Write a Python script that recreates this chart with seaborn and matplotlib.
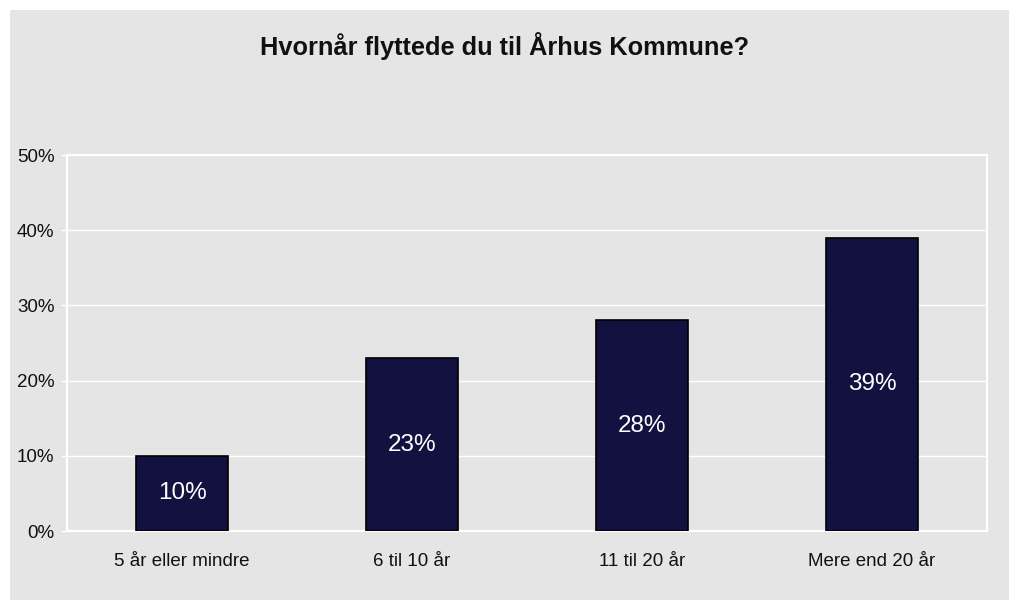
import matplotlib.pyplot as plt
import matplotlib.ticker as mticker
import seaborn as sns
import pandas as pd

categories = ["5 år eller mindre", "6 til 10 år", "11 til 20 år", "Mere end 20 år"]
values = [10, 23, 28, 39]
yticks = [0, 10, 20, 30, 40, 50]

df = pd.DataFrame({"Kategori": categories, "Andel": values})

sns.set_theme(style="white")
plt.rcParams['font.family'] = ['Liberation Sans', 'DejaVu Sans']

bg = "#E5E5E5"
bar_color = "#13113F"

fig = plt.figure(figsize=(10.09, 6), dpi=100, facecolor="white")

# grey chart area with a small white margin left and top
bg_ax = fig.add_axes([10 / 1009, 0, 1 - 10 / 1009, 590 / 600], zorder=-1)
bg_ax.set_facecolor(bg)
bg_ax.set_xticks([])
bg_ax.set_yticks([])
for s in bg_ax.spines.values():
    s.set_visible(False)

ax = fig.add_axes([67 / 1009, 69 / 600, 920 / 1009, 376 / 600], zorder=1)
ax.set_facecolor(bg)

sns.barplot(data=df, x="Kategori", y="Andel", ax=ax, color=bar_color,
            width=0.4, edgecolor="black", linewidth=1.2, saturation=1, zorder=3)

for i, v in enumerate(values):
    ax.text(i, v / 2, f"{v}%", ha="center", va="center", color="white",
            fontsize=17.5, zorder=4)

ax.set_ylim(0, 50)
ax.set_xlim(-0.5, len(categories) - 0.5)
ax.set_yticks(yticks)
ax.yaxis.set_major_formatter(mticker.FuncFormatter(lambda y, _: f"{int(y)}%"))
ax.yaxis.grid(True, color="white", linewidth=1)
ax.set_axisbelow(True)

ax.set_xticks(range(len(categories)))
ax.set_xticklabels(categories)
ax.set_xticks([i - 0.5 for i in range(len(categories) + 1)], minor=True)
ax.tick_params(axis="x", which="major", length=0, pad=16, labelsize=13.5, colors="#111111")
ax.tick_params(axis="x", which="minor", length=4.5, width=1, color="white", direction="out")
ax.tick_params(axis="y", length=4, width=1, color="white", labelsize=13.5,
               labelcolor="#111111", pad=5, direction="out", left=True)

for side in ["left", "bottom", "right", "top"]:
    ax.spines[side].set_visible(True)
    ax.spines[side].set_color("white")
    ax.spines[side].set_linewidth(1.5)

ax.set_xlabel("")
ax.set_ylabel("")

fig.text(0.5, 1 - 46 / 600, "Hvornår flyttede du til Århus Kommune?", ha="center",
         va="center", fontsize=18.3, fontweight="bold", color="#111111")

plt.savefig("out.png", dpi=100, facecolor=fig.get_facecolor())
